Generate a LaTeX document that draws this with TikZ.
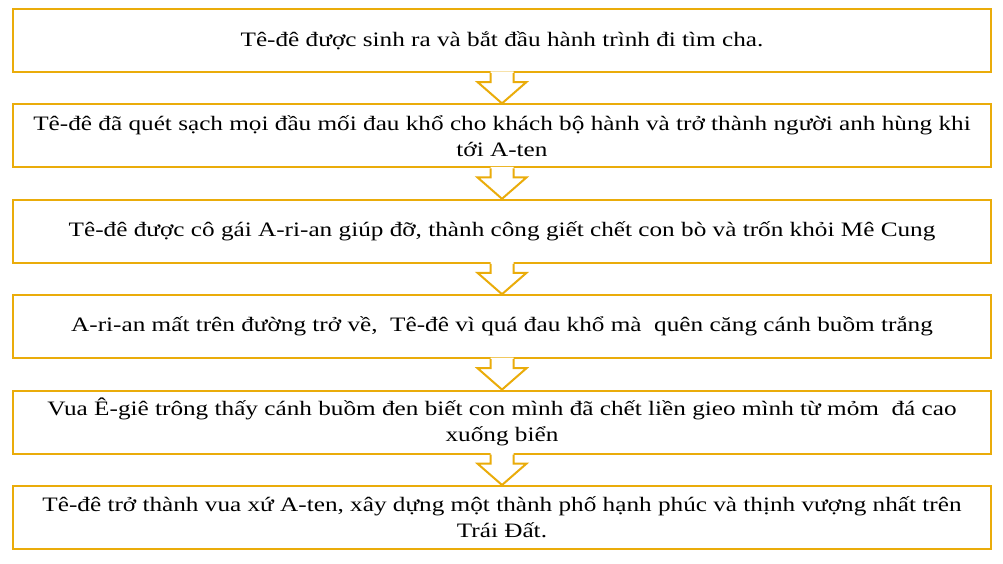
\documentclass[tikz,border=0pt]{standalone}
\usepackage{fontspec}
\setmainfont{Liberation Serif}[FakeStretch=1.23]
\definecolor{gold}{RGB}{234,172,10}
\tikzset{
  stepbox/.style={draw=gold, line width=2pt, minimum width=978pt, minimum height=63pt,
    inner sep=0pt, align=center, font=\fontsize{20.5}{26}\selectfont, text=black},
  flowarrow/.style={draw=gold, line width=2pt, line join=miter},
}
\begin{document}
\begin{tikzpicture}[x=1pt,y=-1pt]
\useasboundingbox[fill=white] (0,0) rectangle (1003,563);
\node[stepbox] (b1) at (502,40.5) {Tê-đê được sinh ra và bắt đầu hành trình đi tìm cha.};
\node[stepbox] (b2) at (502,135.9) {Tê-đê đã quét sạch mọi đầu mối đau khổ cho khách bộ hành và trở thành người anh hùng khi\\tới A-ten};
\node[stepbox] (b3) at (502,231.3) {Tê-đê được cô gái A-ri-an giúp đỡ, thành công giết chết con bò và trốn khỏi Mê Cung};
\node[stepbox] (b4) at (502,326.7) {A-ri-an mất trên đường trở về,\ \ Tê-đê vì quá đau khổ mà\ \ quên căng cánh buồm trắng};
\node[stepbox] (b5) at (502,422.1) {Vua Ê-giê trông thấy cánh buồm đen biết con mình đã chết liền gieo mình từ mỏm\ \ đá cao\\xuống biển};
\node[stepbox] (b6) at (502,517.5) {Tê-đê trở thành vua xứ A-ten, xây dựng một thành phố hạnh phúc và thịnh vượng nhất trên\\Trái Đất.};
\foreach \a/\b in {b1/b2,b2/b3,b3/b4,b4/b5,b5/b6}{
  \fill[white] ([shift={(-11.5,-1.6)}]\a.south) -- ([shift={(-11.5,9)}]\a.south) -- ([shift={(-24.5,9)}]\a.south)
    -- (\b.north) -- ([shift={(24.5,9)}]\a.south) -- ([shift={(11.5,9)}]\a.south) -- ([shift={(11.5,-1.6)}]\a.south) -- cycle;
  \draw[flowarrow] ([shift={(-11.5,0)}]\a.south) -- ([shift={(-11.5,9)}]\a.south) -- ([shift={(-24.5,9)}]\a.south)
    -- (\b.north) -- ([shift={(24.5,9)}]\a.south) -- ([shift={(11.5,9)}]\a.south) -- ([shift={(11.5,0)}]\a.south);
}
\end{tikzpicture}
\end{document}
